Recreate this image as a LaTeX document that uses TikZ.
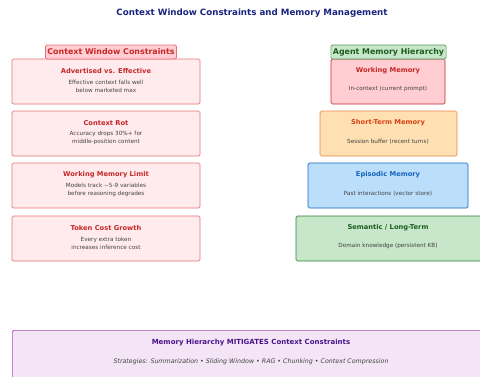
\documentclass[tikz,border=0pt]{standalone}
\usepackage{fontspec}
\setmainfont{DejaVu Sans}
\usetikzlibrary{positioning}
\definecolor{titleblue}{HTML}{1A237E}
\definecolor{redline}{HTML}{E57373}
\definecolor{redfill}{HTML}{FFEBEE}
\definecolor{redtext}{HTML}{C62828}
\definecolor{redhead}{HTML}{FFCDD2}
\definecolor{orangefill}{HTML}{FFE0B2}
\definecolor{orangeline}{HTML}{E65100}
\definecolor{orangetext}{HTML}{D84315}
\definecolor{bluefill}{HTML}{BBDEFB}
\definecolor{blueline}{HTML}{1565C0}
\definecolor{greenfill}{HTML}{C8E6C9}
\definecolor{greenline}{HTML}{2E7D32}
\definecolor{greentext}{HTML}{1B5E20}
\definecolor{purplefill}{HTML}{F3E5F5}
\definecolor{purpleline}{HTML}{AB47BC}
\definecolor{purpletext}{HTML}{4A148C}
\definecolor{subgray}{HTML}{424242}

\begin{document}
\begin{tikzpicture}[x=1pt, y=-1pt]
        \useasboundingbox (0,0) rectangle (480,376);
        \clip (0,0) rectangle (480,376);
        \tikzset{box/.style={draw, rounded corners=1.5pt, line width=0.7pt, inner sep=0pt}}
        \tikzset{head/.style={box, font=\fontsize{7.9}{9}\selectfont\bfseries, inner xsep=2pt, minimum height=14pt}}
        \tikzset{btitle/.style={font=\fontsize{6.7}{8}\selectfont\bfseries}}
        \tikzset{bsub/.style={font=\fontsize{5.7}{8}\selectfont, text=subgray, align=center}}
        \tikzset{cbox/.style={box, draw=redline, fill=redfill, minimum width=188pt, minimum height=45pt}}
        \tikzset{mbox/.style={box, minimum height=45pt}}
        % title
        \node[font=\fontsize{8.7}{10}\selectfont\bfseries, text=titleblue] (title) at (252,13) {Context Window Constraints and Memory Management};
        % left column
        \node[cbox] (adv) at (106,81.5) {};
        \node[cbox] (rot) at (106,133.5) {};
        \node[cbox] (wml) at (106,185.5) {};
        \node[cbox] (tok) at (106,238.5) {};
        \node[head, draw=redline, fill=redhead, text=redtext] (chead) at (111,52) {Context Window Constraints};
        \node[btitle, text=redtext] (advt) at (106,71) {Advertised vs. Effective};
        \node[bsub] (advs) at (106,86) {Effective context falls well\\below marketed max};
        \node[btitle, text=redtext] (rott) at (106,123) {Context Rot};
        \node[bsub] (rots) at (106,138) {Accuracy drops 30\%+ for\\middle-position content};
        \node[btitle, text=redtext] (wmlt) at (106,175) {Working Memory Limit};
        \node[bsub] (wmls) at (106,190) {Models track \textasciitilde5-9 variables\\before reasoning degrades};
        \node[btitle, text=redtext] (tokt) at (106,228) {Token Cost Growth};
        \node[bsub] (toks) at (106,243) {Every extra token\\increases inference cost};
        % right column
        \node[mbox, draw=redtext, fill=redhead, minimum width=114pt] (work) at (388,81.5) {};
        \node[mbox, draw=orangeline!70, fill=orangefill, minimum width=137pt] (short) at (388.5,133.5) {};
        \node[mbox, draw=blueline, fill=bluefill, minimum width=160pt] (epi) at (388,185.5) {};
        \node[mbox, draw=greenline, fill=greenfill, minimum width=186pt] (sem) at (389,238.5) {};
        \node[head, draw=greenline!80, fill=greenfill, text=greentext] (mhead) at (388.5,52) {Agent Memory Hierarchy};
        \node[btitle, text=redtext] (workt) at (388,71) {Working Memory};
        \node[bsub] (works) at (388,89) {In-context (current prompt)};
        \node[btitle, text=orangetext] (shortt) at (388,123) {Short-Term Memory};
        \node[bsub] (shorts) at (388,142) {Session buffer (recent turns)};
        \node[btitle, text=blueline] (epit) at (388,175) {Episodic Memory};
        \node[bsub] (epis) at (388,194) {Past interactions (vector store)};
        \node[btitle, text=greentext] (semt) at (388,228) {Semantic / Long-Term};
        \node[bsub] (sems) at (388,246) {Domain knowledge (persistent KB)};
        % bottom
        \node[box, draw=purpleline, fill=purplefill, minimum width=480pt, minimum height=52pt, anchor=north west] (mit) at (12,330) {};
        \node[font=\fontsize{7}{8}\selectfont\bfseries, text=purpletext] (mitt) at (251,343) {Memory Hierarchy MITIGATES Context Constraints};
        \node[font=\fontsize{6.3}{8}\selectfont\itshape, text=subgray] (mits) at (251,362) {Strategies: Summarization • Sliding Window • RAG • Chunking • Context Compression};
\end{tikzpicture}
\end{document}
